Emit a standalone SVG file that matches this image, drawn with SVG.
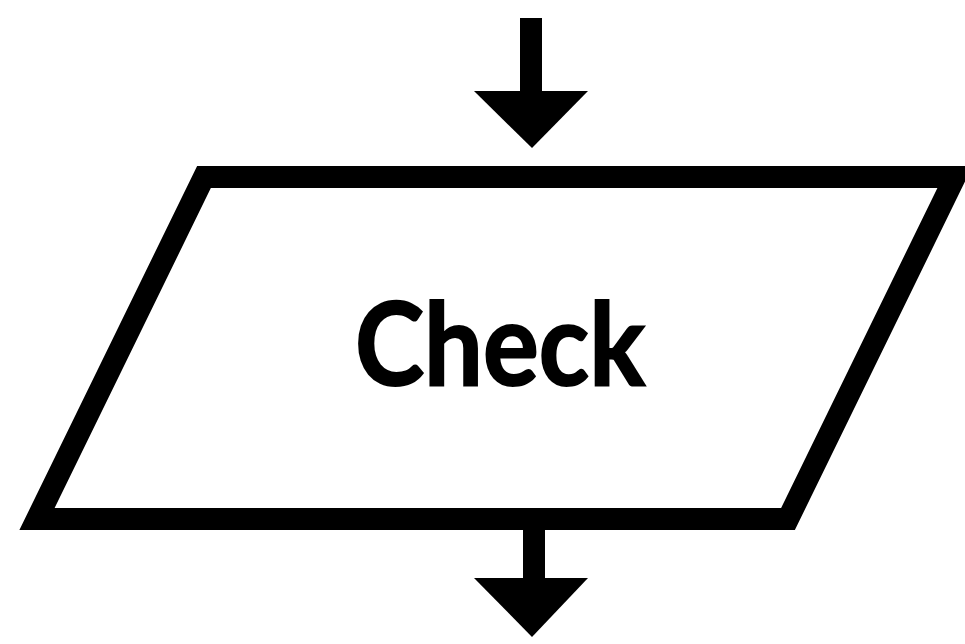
<svg xmlns="http://www.w3.org/2000/svg" width="965" height="644" viewBox="0 0 965 644">
  <style>
    .shape { fill: #ffffff; stroke: #000000; stroke-width: 22; stroke-linejoin: miter; stroke-miterlimit: 10; }
    .shaft { stroke: #000000; stroke-width: 22; fill: none; }
    .head { fill: #000000; stroke: none; }
    .label { font-family: "Lato", "Open Sans", "Liberation Sans", sans-serif; font-weight: bold; font-size: 114px; fill: #000000; stroke: #000000; stroke-width: 2; }
  </style>
  <rect width="965" height="644" fill="#ffffff"/>
  <g id="connectors">
    <g id="arrow-in">
      <line class="shaft" x1="531" y1="18" x2="531" y2="95"/>
      <polygon class="head" points="474,91 588,91 532,148"/>
    </g>
    <g id="arrow-out">
      <line class="shaft" x1="534" y1="519" x2="534" y2="582"/>
      <polygon class="head" points="474,578 588,578 532,637"/>
    </g>
  </g>
  <g id="node-check">
    <polygon class="shape" points="204,177 955,177 788,519 37,519"/>
    <text class="label" x="500" y="385" text-anchor="middle" textLength="290" lengthAdjust="spacingAndGlyphs">Check</text>
  </g>
</svg>
